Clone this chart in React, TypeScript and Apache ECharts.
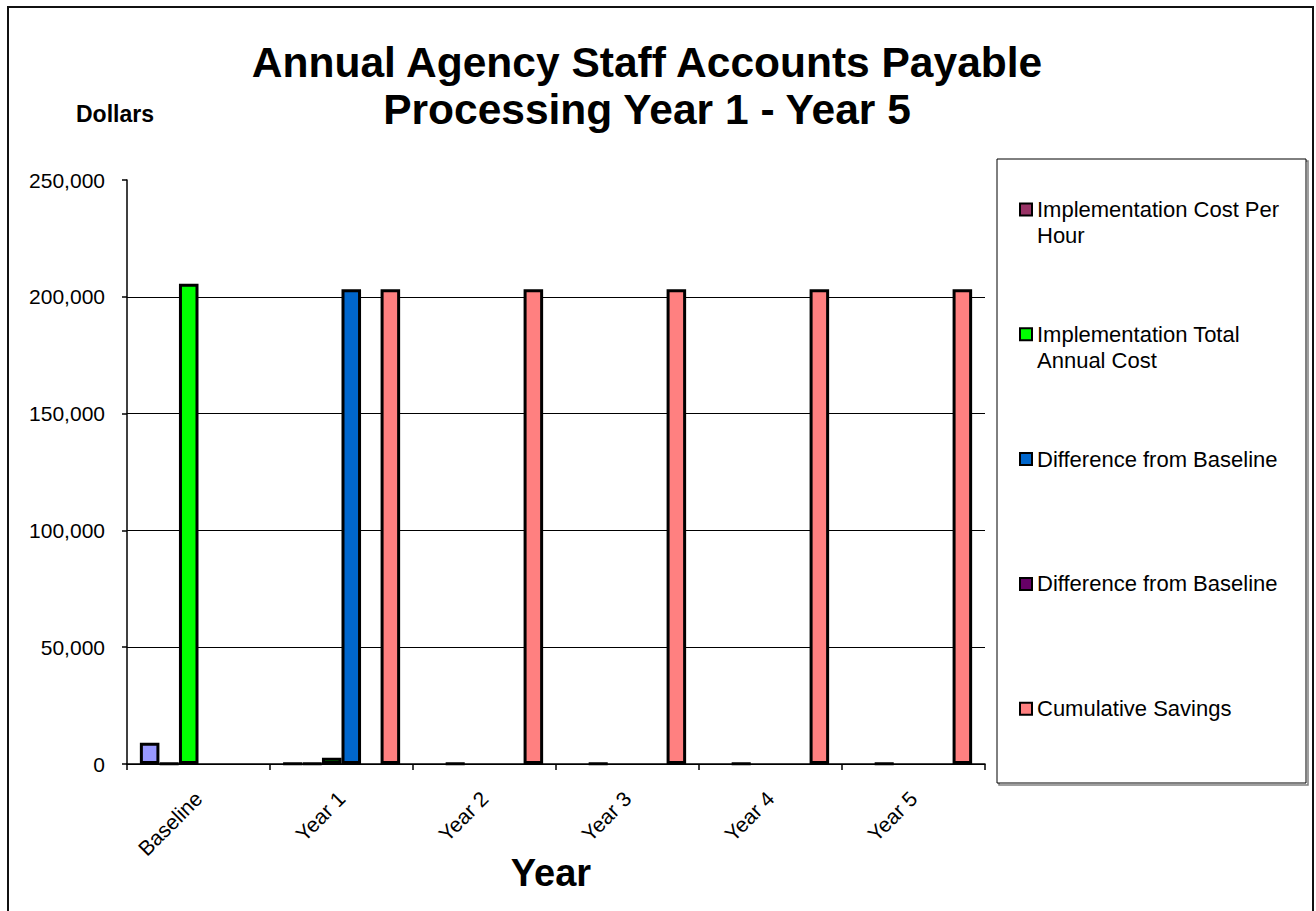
import React, { useEffect, useRef } from "react";
import * as echarts from "echarts";

const categories = ["Baseline", "Year 1", "Year 2", "Year 3", "Year 4", "Year 5"];

const seriesNames = [
  "Baseline Cost",
  "Implementation Cost Per Hour",
  "Implementation Total Annual Cost",
  "Difference from Baseline",
  "Difference from Baseline ",
  "Cumulative Savings",
];

const baselineCost = [9100, 200, null, null, null, null];
const implCostPerHour = [200, 200, 200, 200, 200, 200];
const implTotalAnnualCost = [205600, 2700, null, null, null, null];
const diffFromBaseline = [null, 203200, null, null, null, null];
const diffFromBaseline2 = [null, null, null, null, null, null];
const cumulativeSavings = [null, 203200, 203200, 203200, 203200, 203200];

const seriesColors = ["#9999FF", "#993366", "#00FF00", "#0066CC", "#660066", "#FF8080"];

const legendLabels = [
  "Implementation Cost Per\nHour",
  "Implementation Total\nAnnual Cost",
  "Difference from Baseline",
  "Difference from Baseline",
  "Cumulative Savings",
];
const legendColorIdx = [1, 2, 3, 4, 5];

const yTicks = { min: 0, max: 250000, interval: 50000 };

const FONT = "Arial, 'Liberation Sans', Helvetica, sans-serif";

export default function App() {
  const ref = useRef<HTMLDivElement>(null);

  useEffect(() => {
    document.body.style.margin = "0";
    if (!ref.current) return;
    const chart = echarts.init(ref.current, null, { renderer: "svg" });

    const allData = [
      baselineCost,
      implCostPerHour,
      implTotalAnnualCost,
      diffFromBaseline,
      diffFromBaseline2,
      cumulativeSavings,
    ];

    const series = allData.map((d, i) => ({
      name: seriesNames[i],
      type: "bar",
      data: d,
      barGap: "0%",
      barCategoryGap: "18%",
      itemStyle: {
        color: seriesColors[i],
        borderColor: "#000",
        borderWidth: 3,
      },
    }));

    const legendGraphics: any[] = [];
    legendGraphics.push({
      type: "rect",
      shape: { x: 999, y: 161, width: 309, height: 624 },
      style: { fill: "none", stroke: "#808080", lineWidth: 1.5 },
      silent: true,
    });
    legendGraphics.push({
      type: "rect",
      shape: { x: 997, y: 159, width: 309, height: 624 },
      style: { fill: "#fff", stroke: "#000", lineWidth: 1 },
      silent: true,
    });
    legendLabels.forEach((lab, i) => {
      const cy = 209.5 + i * 124.8;
      legendGraphics.push({
        type: "rect",
        shape: { x: 1020, y: cy - 6, width: 12, height: 12 },
        style: { fill: seriesColors[legendColorIdx[i]], stroke: "#000", lineWidth: 2 },
        silent: true,
      });
      legendGraphics.push({
        type: "text",
        x: 1037,
        y: cy - 13,
        style: {
          text: lab,
          fontFamily: FONT,
          fontSize: 22,
          lineHeight: 26,
          fill: "#000",
          align: "left",
          verticalAlign: "top",
        },
        silent: true,
      });
    });

    const option: any = {
      animation: false,
      backgroundColor: "#fff",
      title: [
        {
          text: "Annual Agency Staff Accounts Payable\nProcessing Year 1 - Year 5",
          left: 647,
          top: 38.5,
          padding: 0,
          textAlign: "center",
          textStyle: {
            fontFamily: FONT,
            fontSize: 42.5,
            fontWeight: "bold",
            color: "#000",
            lineHeight: 47.5,
          },
        },
        {
          text: "Dollars",
          left: 76,
          top: 102,
          padding: 0,
          textStyle: {
            fontFamily: FONT,
            fontSize: 23,
            fontWeight: "bold",
            color: "#000",
            lineHeight: 23,
          },
        },
      ],
      grid: { left: 127, right: 331, top: 180, bottom: 147, containLabel: false },
      xAxis: {
        type: "category",
        data: categories,
        boundaryGap: true,
        name: "Year",
        nameLocation: "middle",
        nameGap: 90,
        nameMoveOverlap: false,
        nameTextStyle: {
          fontFamily: FONT,
          fontSize: 38,
          fontWeight: "bold",
          color: "#000",
          verticalAlign: "top",
          padding: [0, 10, 0, 0],
        },
        axisLine: { show: true, lineStyle: { color: "#000", width: 1.5 } },
        axisTick: { show: true, alignWithLabel: false, length: 6, lineStyle: { color: "#000", width: 1.5 } },
        axisLabel: {
          rotate: 45,
          margin: 31,
          fontFamily: FONT,
          fontSize: 21,
          color: "#000",
          interval: 0,
        },
        splitLine: { show: false },
      },
      yAxis: {
        type: "value",
        min: yTicks.min,
        max: yTicks.max,
        interval: yTicks.interval,
        axisLine: { show: true, lineStyle: { color: "#000", width: 1.5 } },
        axisTick: { show: true, length: 5, lineStyle: { color: "#000", width: 1.5 } },
        axisLabel: {
          margin: 22,
          fontFamily: FONT,
          fontSize: 21,
          color: "#000",
          formatter: (v: number) => v.toLocaleString("en-US"),
        },
        splitLine: {
          show: true,
          showMaxLine: false,
          lineStyle: { color: "#000", width: 1.2 },
        },
      },
      legend: { show: false },
      tooltip: { show: false },
      graphic: [
        {
          type: "rect",
          shape: { x: 8, y: 7, width: 1305, height: 915 },
          style: { fill: "none", stroke: "#111", lineWidth: 2 },
          silent: true,
          z: 100,
        },
        ...legendGraphics,
      ],
      series,
    };

    chart.setOption(option);
    return () => chart.dispose();
  }, []);

  return <div ref={ref} style={{ width: 1316, height: 911, background: "#fff" }} />;
}
